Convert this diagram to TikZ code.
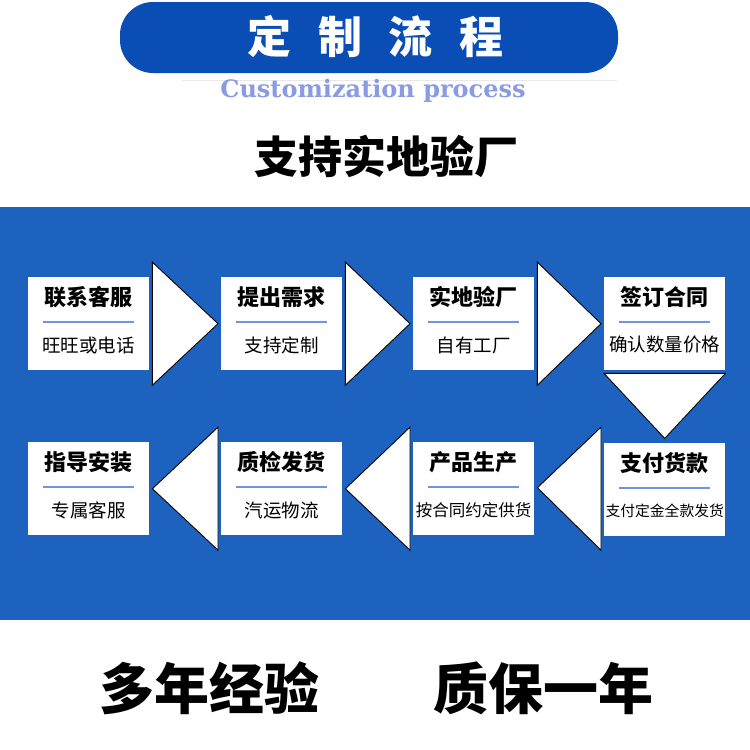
\documentclass[tikz,border=0pt]{standalone}
\usepackage{fontspec}
\usetikzlibrary{calc}
\setmainfont{Liberation Serif}
\newfontfamily\cjk{Noto Sans CJK SC}
\newfontfamily\enserif{DejaVu Serif}
\definecolor{band}{HTML}{1E62C0}
\definecolor{pill}{HTML}{0A4DB4}
\definecolor{lav}{HTML}{8A9BE4}
\definecolor{sepline}{HTML}{6E96DC}
\tikzset{
  box/.style={rectangle, fill=white, draw=none, minimum width=121pt, minimum height=93pt, inner sep=0pt, anchor=north west},
  ttl/.style={font=\cjk\bfseries\fontsize{22}{22}\selectfont, text=black, inner sep=0pt},
  sub/.style={font=\cjk\fontsize{18.5}{18.5}\selectfont, text=black, inner sep=0pt},
  arr/.style={fill=white, draw=black, line width=0.9pt, line join=miter},
  sep/.style={draw=sepline, line width=1.5pt},
  bigtxt/.style={font=\cjk\bfseries\fontsize{55}{55}\selectfont, text=black, inner sep=0pt},
  headch/.style={font=\cjk\bfseries\fontsize{44}{44}\selectfont, text=white, inner sep=0pt}
}
\newcommand{\fillbox}[4]{%
  \node[ttl] (#1t) at ($(#1.north)+(0,20)$) {#2};
  \draw[sep] ($(#1.north west)+(15,45)$) coordinate (#1l) -- ($(#1.north east)+(-15,45)$) coordinate (#1r);
  \node[#4] (#1s) at ($(#1.north)+(0,68)$) {#3};
}
\begin{document}
\begin{tikzpicture}[x=1pt,y=-1pt]
\useasboundingbox (0,0) rectangle (750,750);
\fill[white] (0,0) rectangle (750,750);
% header
\fill[pill, rounded corners=33pt] (120,2) rectangle (618,73);
\node[headch] (h1) at (269,37) {定};
\node[headch] (h2) at (340,37) {制};
\node[headch] (h3) at (410,37) {流};
\node[headch] (h4) at (481,37) {程};
\draw[black!9, line width=0.8pt] (182,80) -- (617,80);
\node[font=\enserif\bfseries\fontsize{24}{24}\selectfont, text=lav, inner sep=0pt, anchor=base] (en) at (373,97) {Customization process};
\node[font=\cjk\bfseries\fontsize{44}{44}\selectfont, text=black, inner sep=0pt] (sub) at (386,156) {支持实地验厂};
% band
\fill[band] (0,207) rectangle (750,620);
% row 1 boxes
\node[box] (b1) at (28,277) {};
\node[box] (b2) at (221,277) {};
\node[box] (b3) at (413,277) {};
\node[box] (b4) at (604,277) {};
% row 2 boxes
\node[box] (b5) at (604,443) {};
\node[box] (b6) at (413,442) {};
\node[box] (b7) at (221,442) {};
\node[box] (b8) at (28,442) {};
\fillbox{b1}{联系客服}{旺旺或电话}{sub}
\fillbox{b2}{提出需求}{支持定制}{sub}
\fillbox{b3}{实地验厂}{自有工厂}{sub}
\fillbox{b4}{签订合同}{确认数量价格}{sub}
\fillbox{b5}{支付货款}{支付定金全款发货}{sub, font=\cjk\fontsize{14.8}{15}\selectfont}
\fillbox{b6}{产品生产}{按合同约定供货}{sub, font=\cjk\fontsize{16.5}{17}\selectfont}
\fillbox{b7}{质检发货}{汽运物流}{sub}
\fillbox{b8}{指导安装}{专属客服}{sub}
% arrows row 1
\draw[arr] ($(b1.east)+(3,-61.5)$) -- ($(b2.west)+(-3,0)$) -- ($(b1.east)+(3,61.5)$) -- cycle;
\draw[arr] ($(b2.east)+(3,-61.5)$) -- ($(b3.west)+(-3,0)$) -- ($(b2.east)+(3,61.5)$) -- cycle;
\draw[arr] ($(b3.east)+(3,-61.5)$) -- ($(b4.west)+(-3,0)$) -- ($(b3.east)+(3,61.5)$) -- cycle;
% down arrow
\draw[arr] ($(b4.south west)+(0,3)$) -- ($(b4.south east)+(0,3)$) -- ($(b4.south)+(0,68)$) -- cycle;
% arrows row 2
\draw[arr] ($(b5.west)+(-3,-62.5)$) -- ($(b6.east)+(3,-1)$) -- ($(b5.west)+(-3,60.5)$) -- cycle;
\draw[arr] ($(b6.west)+(-3,-61.5)$) -- ($(b7.east)+(3,0)$) -- ($(b6.west)+(-3,61.5)$) -- cycle;
\draw[arr] ($(b7.west)+(-3,-61.5)$) -- ($(b8.east)+(3,0)$) -- ($(b7.west)+(-3,61.5)$) -- cycle;
% bottom
\node[bigtxt] (k1) at (209,688) {多年经验};
\node[bigtxt] (k2) at (543,688) {质保一年};
\end{tikzpicture}
\end{document}
